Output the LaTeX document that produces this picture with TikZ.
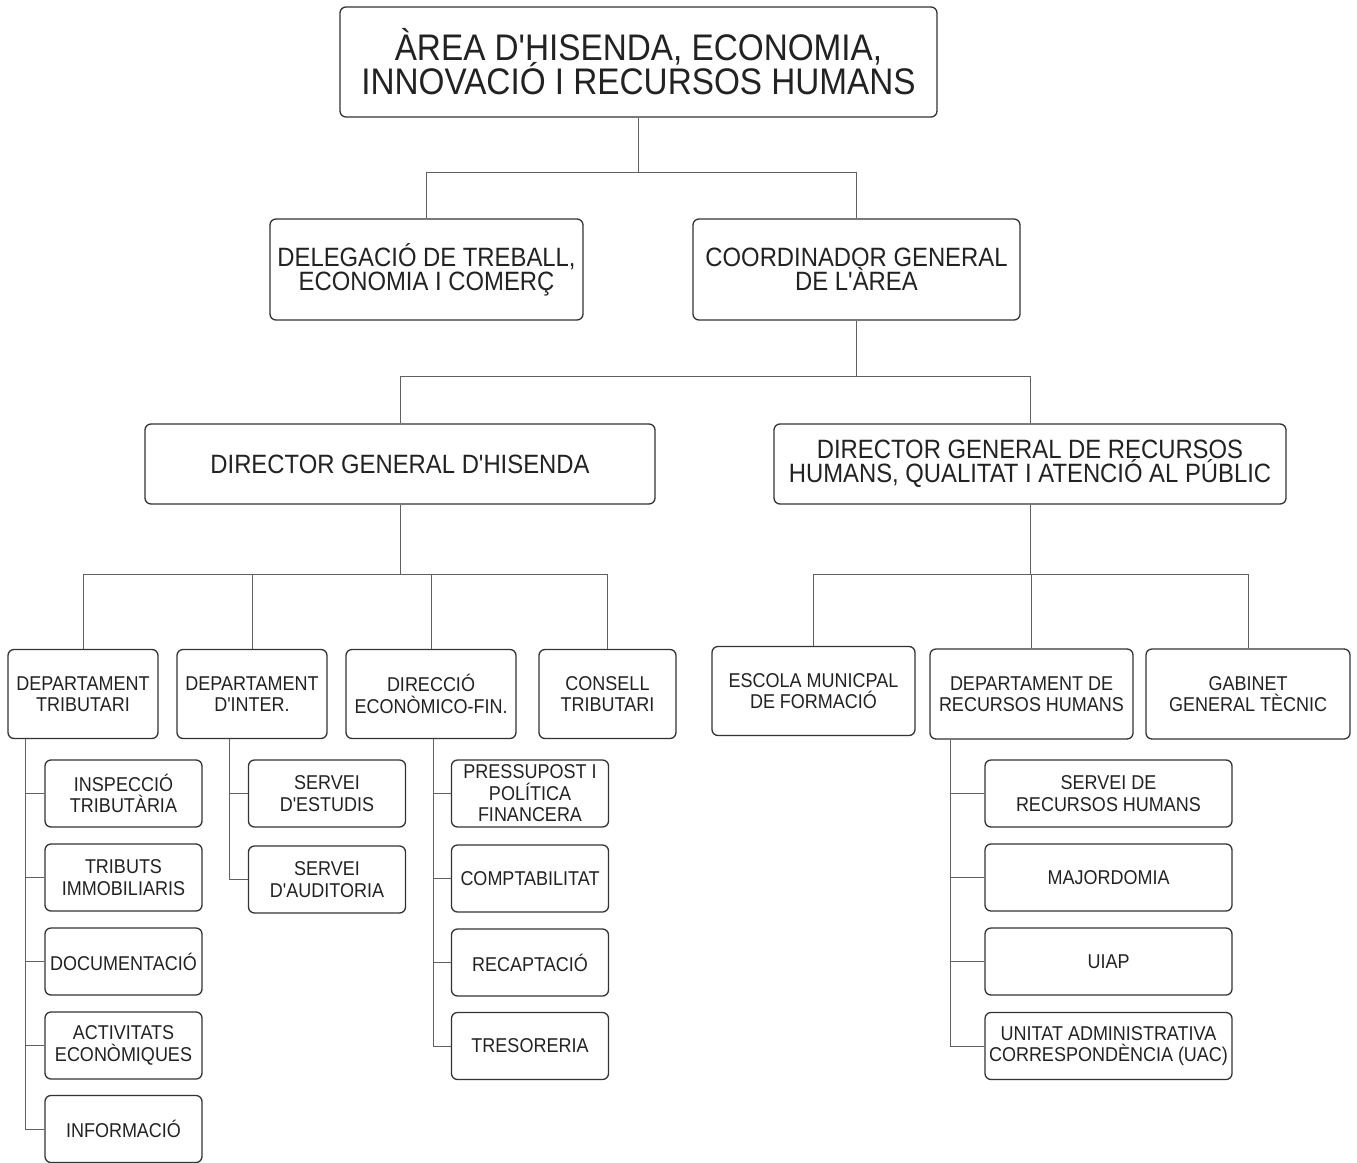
\documentclass[tikz,border=0pt]{standalone}
\usepackage{fontspec}
\setmainfont{Liberation Sans}[FakeStretch=0.9,Ligatures=TeXOff]
\usepackage{xcolor}
\usepackage{tikz}

\definecolor{boxgray}{HTML}{333333}
\definecolor{linegray}{HTML}{606060}
\definecolor{textgray}{HTML}{222222}
\newcommand\tightskip{\lineskiplimit=-100pt\relax}

\tikzset{
	unit/.style={draw=boxgray, line width=1.3pt, rounded corners=6pt, align=center, inner sep=0pt, text=textgray},
	headbox/.style={unit, font={\fontsize{37}{34}\selectfont\tightskip}},
	midbox/.style={unit, font={\fontsize{26.5}{24}\selectfont\tightskip}},
	smallbox/.style={unit, font={\fontsize{20}{21.5}\selectfont\tightskip}},
	leafbox/.style={smallbox, minimum width=157pt, minimum height=67pt},
	wideleaf/.style={smallbox, minimum width=247pt, minimum height=67pt},
	link/.style={draw=linegray, line width=1pt}
}

\begin{document}
\begin{tikzpicture}[x=1pt, y=-1pt]
	\useasboundingbox (0,0) rectangle (1357,1162);

	\node[headbox, minimum width=597pt, minimum height=110pt](area) at (638.5,62) {ÀREA D'HISENDA, ECONOMIA,\\INNOVACIÓ I RECURSOS HUMANS};

	\node[midbox, minimum width=313pt, minimum height=101pt](deleg) at (426.5,269.5) {DELEGACIÓ DE TREBALL,\\ECONOMIA I COMERÇ};
	\node[midbox, minimum width=327pt, minimum height=101pt](coord) at (856.5,269.5) {COORDINADOR GENERAL\\DE L'ÀREA};

	\coordinate (busA) at ([yshift=-55pt]area.south);
	\draw [link] (area.south) -- (busA) -| (deleg.north);
	\draw [link] (busA) -| (coord.north);

	\node[midbox, minimum width=510pt, minimum height=80pt](dgh) at (400,464) {DIRECTOR GENERAL D'HISENDA};
	\node[midbox, minimum width=512pt, minimum height=80pt](dgrh) at (1030,464) {DIRECTOR GENERAL DE RECURSOS\\HUMANS, QUALITAT I ATENCIÓ AL PÚBLIC};

	\coordinate (busB) at ([yshift=-56pt]coord.south);
	\draw [link] (coord.south) -- (busB) -| (dgh.north);
	\draw [link] (busB) -| (dgrh.north);

	% hisenda
	\node[smallbox, minimum width=150pt, minimum height=89pt](trib) at (83,694) {DEPARTAMENT\\TRIBUTARI};
	\node[smallbox, minimum width=150pt, minimum height=89pt](inter) at (252,694) {DEPARTAMENT\\D'INTER.};
	\node[smallbox, minimum width=170pt, minimum height=89pt](direc) at (431,694) {DIRECCIÓ\\ECONÒMICO-FIN.};
	\node[smallbox, minimum width=137pt, minimum height=89pt](consell) at (607.5,694) {CONSELL\\TRIBUTARI};

	\coordinate (busC) at ([yshift=-70pt]dgh.south);
	\draw [link] (dgh.south) -- (busC);
	\foreach \n in {trib,inter,direc,consell}
		\draw [link] (busC) -| (\n.north);

	% recursos humans
	\node[smallbox, minimum width=203pt, minimum height=89pt](escola) at (813.5,691) {ESCOLA MUNICPAL\\DE FORMACIÓ};
	\node[smallbox, minimum width=203pt, minimum height=90pt](deprh) at (1031.5,694) {DEPARTAMENT DE\\RECURSOS HUMANS};
	\node[smallbox, minimum width=204pt, minimum height=90pt](gabinet) at (1248,694) {GABINET\\GENERAL TÈCNIC};

	\coordinate (busD) at ([yshift=-70pt]dgrh.south);
	\draw [link] (dgrh.south) -- (busD);
	\foreach \n in {escola,deprh,gabinet}
		\draw [link] (busD) -| (\n.north);

	% leaves
	\foreach \n/\y/\t in {insp/793.5/{INSPECCIÓ\\TRIBUTÀRIA}, tribim/877.5/{TRIBUTS\\IMMOBILIARIS}, docu/961.5/{DOCUMENTACIÓ}, activ/1045.5/{ACTIVITATS\\ECONÒMIQUES}, info/1129/{INFORMACIÓ}}
		\node[leafbox](\n) at (123.5,\y) {\t};
	\foreach \n/\y/\t in {estud/793.5/{SERVEI\\D'ESTUDIS}, audit/879.5/{SERVEI\\D'AUDITORIA}}
		\node[leafbox](\n) at (327,\y) {\t};
	\foreach \n/\y/\t in {press/793.5/{PRESSUPOST I\\POLÍTICA\\FINANCERA}, compt/878.5/{COMPTABILITAT}, recap/962.5/{RECAPTACIÓ}, treso/1046/{TRESORERIA}}
		\node[leafbox](\n) at (530,\y) {\t};
	\foreach \n/\y/\t in {servrh/793.5/{SERVEI DE\\RECURSOS HUMANS}, major/877.5/{MAJORDOMIA}, uiap/961.5/{UIAP}, uac/1046/{UNITAT ADMINISTRATIVA\\CORRESPONDÈNCIA (UAC)}}
		\node[wideleaf](\n) at (1108.5,\y) {\t};

	\coordinate (tribV) at ([xshift=18pt]trib.south west);
	\foreach \n in {insp,tribim,docu,activ,info}
		\draw [link] (tribV) |- (\n.west);
	\coordinate (interV) at ([xshift=53pt]inter.south west);
	\foreach \n in {estud,audit}
		\draw [link] (interV) |- (\n.west);
	\coordinate (direcV) at ([xshift=88pt]direc.south west);
	\foreach \n in {press,compt,recap,treso}
		\draw [link] (direcV) |- (\n.west);
	\coordinate (deprhV) at ([xshift=21pt]deprh.south west);
	\foreach \n in {servrh,major,uiap,uac}
		\draw [link] (deprhV) |- (\n.west);
\end{tikzpicture}
\end{document}
